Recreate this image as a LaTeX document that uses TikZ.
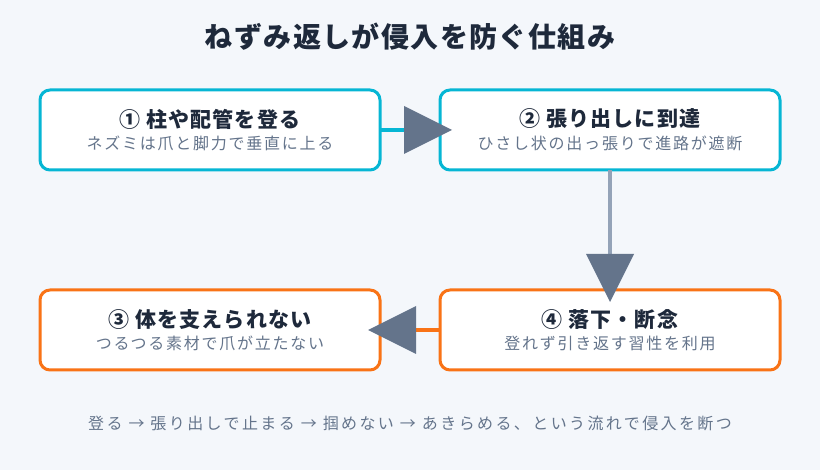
\documentclass[tikz,border=0pt]{standalone}
\usepackage{fontspec}
\setmainfont{Noto Sans CJK JP}
\newfontfamily\headfont{Noto Sans CJK JP}[LetterSpace=5]
\newfontfamily\notefont{Noto Sans CJK JP}[LetterSpace=11]
\newfontfamily\footfont{Noto Sans CJK JP}[LetterSpace=15]
\usetikzlibrary{arrows.meta,positioning}

\definecolor{bgpanel}{HTML}{F4F7FB}
\definecolor{climbedge}{HTML}{06B6D4}
\definecolor{falledge}{HTML}{F97316}
\definecolor{headtip}{HTML}{64748B}
\definecolor{dropline}{HTML}{94A3B8}
\definecolor{inktext}{HTML}{1E293B}
\definecolor{subtext}{HTML}{64748B}

\newcommand{\phasetext}[2]{{\headfont\fontsize{21}{25}\selectfont\bfseries #1}\\[6pt]{\notefont\fontsize{16}{19}\selectfont\color{subtext}#2}}

\begin{document}
\begin{tikzpicture}[
  x=1pt, y=-1pt,
  phase/.style={rectangle, rounded corners=10pt, draw, line width=3pt, fill=white, align=center, minimum width=340pt, minimum height=80pt, inner sep=0pt, outer sep=0pt, text=inktext},
  climb/.style={phase, draw=climbedge},
  fall/.style={phase, draw=falledge},
  arr/.style={line width=4pt, -{Triangle[length=48pt, width=48pt, line width=0pt, color=headtip, fill=headtip]}, shorten >=-12pt},
  node distance=120pt and 60pt
]
\fill[bgpanel] (0,0) rectangle (820,470);
\useasboundingbox (0,0) rectangle (820,470);

\node[text=inktext, font={\headfont\fontsize{28}{32}\selectfont\bfseries}] (title) at (410,37) {ねずみ返しが侵入を防ぐ仕組み};

\node[climb] (pole) at (210,130) {\phasetext{① 柱や配管を登る}{ネズミは爪と脚力で垂直に上る}};
\node[climb, right=of pole] (guard) {\phasetext{② 張り出しに到達}{ひさし状の出っ張りで進路が遮断}};
\node[fall, below=of guard] (drop) {\phasetext{④ 落下・断念}{登れず引き返す習性を利用}};
\node[fall, left=of drop] (slip) {\phasetext{③ 体を支えられない}{つるつる素材で爪が立たない}};

\draw[arr, draw=climbedge] (pole) -- (guard);
\draw[arr, draw=dropline] (guard) -- (drop);
\draw[arr, draw=falledge] (drop) -- (slip);

\node[text=subtext, font={\footfont\fontsize{16}{19}\selectfont}] (flow) at (410,423) {登る → 張り出しで止まる → 掴めない → あきらめる、という流れで侵入を断つ};
\end{tikzpicture}
\end{document}
